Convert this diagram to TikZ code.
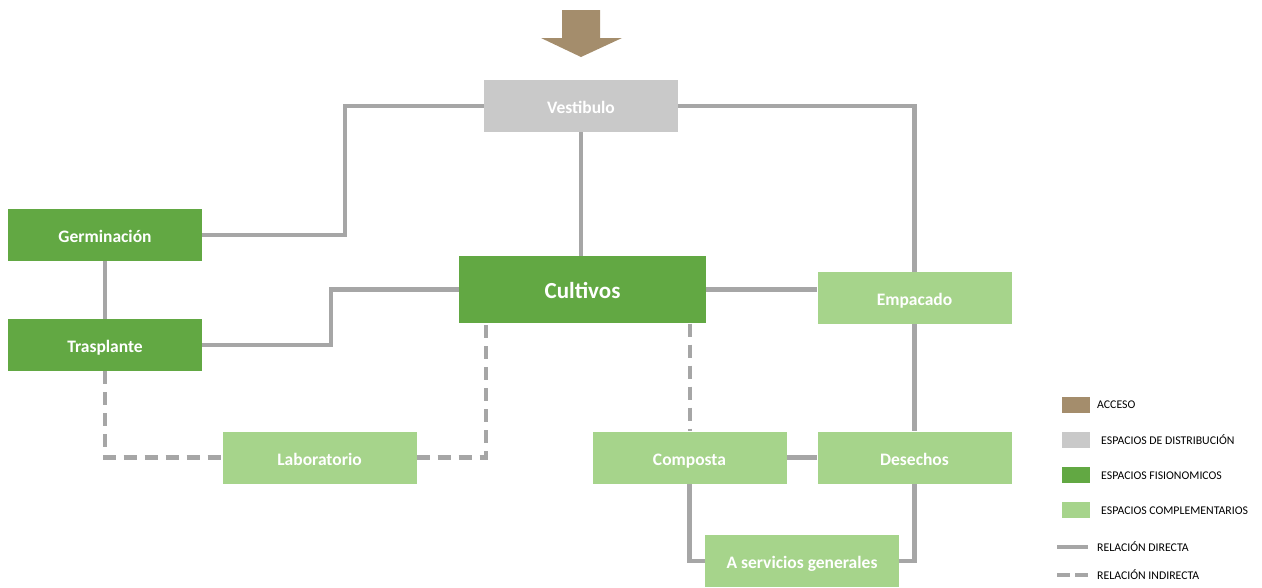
\documentclass[tikz,border=0pt]{standalone}
\usepackage{fontspec}
\setmainfont{Carlito}
\definecolor{linegray}{HTML}{A6A6A6}
\definecolor{distgray}{HTML}{C9C9C9}
\definecolor{fisgreen}{HTML}{62A843}
\definecolor{compgreen}{HTML}{A6D48B}
\definecolor{acctan}{HTML}{A48D6C}
\begin{document}
\begin{tikzpicture}[x=1pt,y=-1pt,
  box/.style={rectangle,inner sep=0pt,minimum width=194pt,minimum height=52pt,text=white,font=\bfseries\fontsize{17.5}{20}\selectfont,text height=18pt,text depth=2.8pt},
  dist/.style={box,fill=distgray},
  fis/.style={box,fill=fisgreen},
  comp/.style={box,fill=compgreen},
  conn/.style={draw=linegray,line width=4.5pt},
  dconn/.style={conn,dash pattern=on 13pt off 8pt},
  swatch/.style={rectangle,inner sep=0pt,minimum width=28pt,minimum height=16pt},
  legtext/.style={anchor=west,inner sep=0pt,font=\fontsize{11.8}{14}\selectfont}]
\useasboundingbox (0,0) rectangle (1262,587);
% access arrow
\fill[acctan] (562,10) -- (600,10) -- (600,38) -- (622,38) -- (581,57) -- (541,38) -- (562,38) -- cycle;
% nodes
\node[dist] (vest) at (581,106) {Vestibulo};
\node[fis] (germ) at (105,235) {Germinación};
\node[fis] (tras) at (105,345) {Trasplante};
\node[fis,minimum width=247pt,minimum height=67pt,font=\bfseries\fontsize{23}{27}\selectfont,text height=22pt,text depth=4pt] (cult) at (582.5,289.5) {Cultivos};
\node[comp] (emp) at (914.5,298) {Empacado};
\node[comp] (lab) at (319.5,457.5) {Laboratorio};
\node[comp] (comp) at (689.5,457.5) {Composta};
\node[comp] (des) at (914.5,457.5) {Desechos};
\node[comp] (serv) at (802,561) {A servicios generales};
% direct connectors
\draw[conn] (vest.west) -- (345,106) |- (germ.east);
\draw[conn] (vest.east) -| (emp.north);
\draw[conn] (vest.south) -- (cult.north -| vest.south);
\draw[conn] (germ.south) -- (tras.north);
\draw[conn] (tras.east) -- (331,345) |- (cult.west);
\draw[conn] (cult.east) -- (cult.east -| emp.west);
\draw[conn] (emp.south) -- (des.north);
\draw[conn] (comp.east) -- (des.west);
\draw[conn] (comp.south) |- (serv.west);
\draw[conn] (des.south) |- (serv.east);
% indirect connectors
\draw[dconn] (tras.south) |- (lab.west);
\draw[dconn] (lab.east) -| (486,323.5) coordinate (c1);
\coordinate (c2) at (690,323.5);
\draw[dconn] (c2) -- (comp.north -| c2);
% legend
\node[swatch,fill=acctan] (l1) at (1076,405) {};
\node[legtext] (t1) at (1097,405) {ACCESO};
\node[swatch,fill=distgray] (l2) at (1076,440) {};
\node[legtext] (t2) at (1101,440) {ESPACIOS DE DISTRIBUCIÓN};
\node[swatch,fill=fisgreen] (l3) at (1076,475) {};
\node[legtext] (t3) at (1101,476) {ESPACIOS FISIONOMICOS};
\node[swatch,fill=compgreen] (l4) at (1076,510) {};
\node[legtext] (t4) at (1101,511) {ESPACIOS COMPLEMENTARIOS};
\coordinate (d1) at (1057,547);
\coordinate (d2) at (1088,547);
\draw[draw=linegray,line width=4pt] (d1) -- (d2);
\node[legtext] (t5) at (1097,547) {RELACIÓN DIRECTA};
\coordinate (i1) at (1057,575);
\coordinate (i2) at (1088,575);
\draw[draw=linegray,line width=4pt,dash pattern=on 13pt off 5pt] (i1) -- (i2);
\node[legtext] (t6) at (1097,575) {RELACIÓN INDIRECTA};
\end{tikzpicture}
\end{document}
